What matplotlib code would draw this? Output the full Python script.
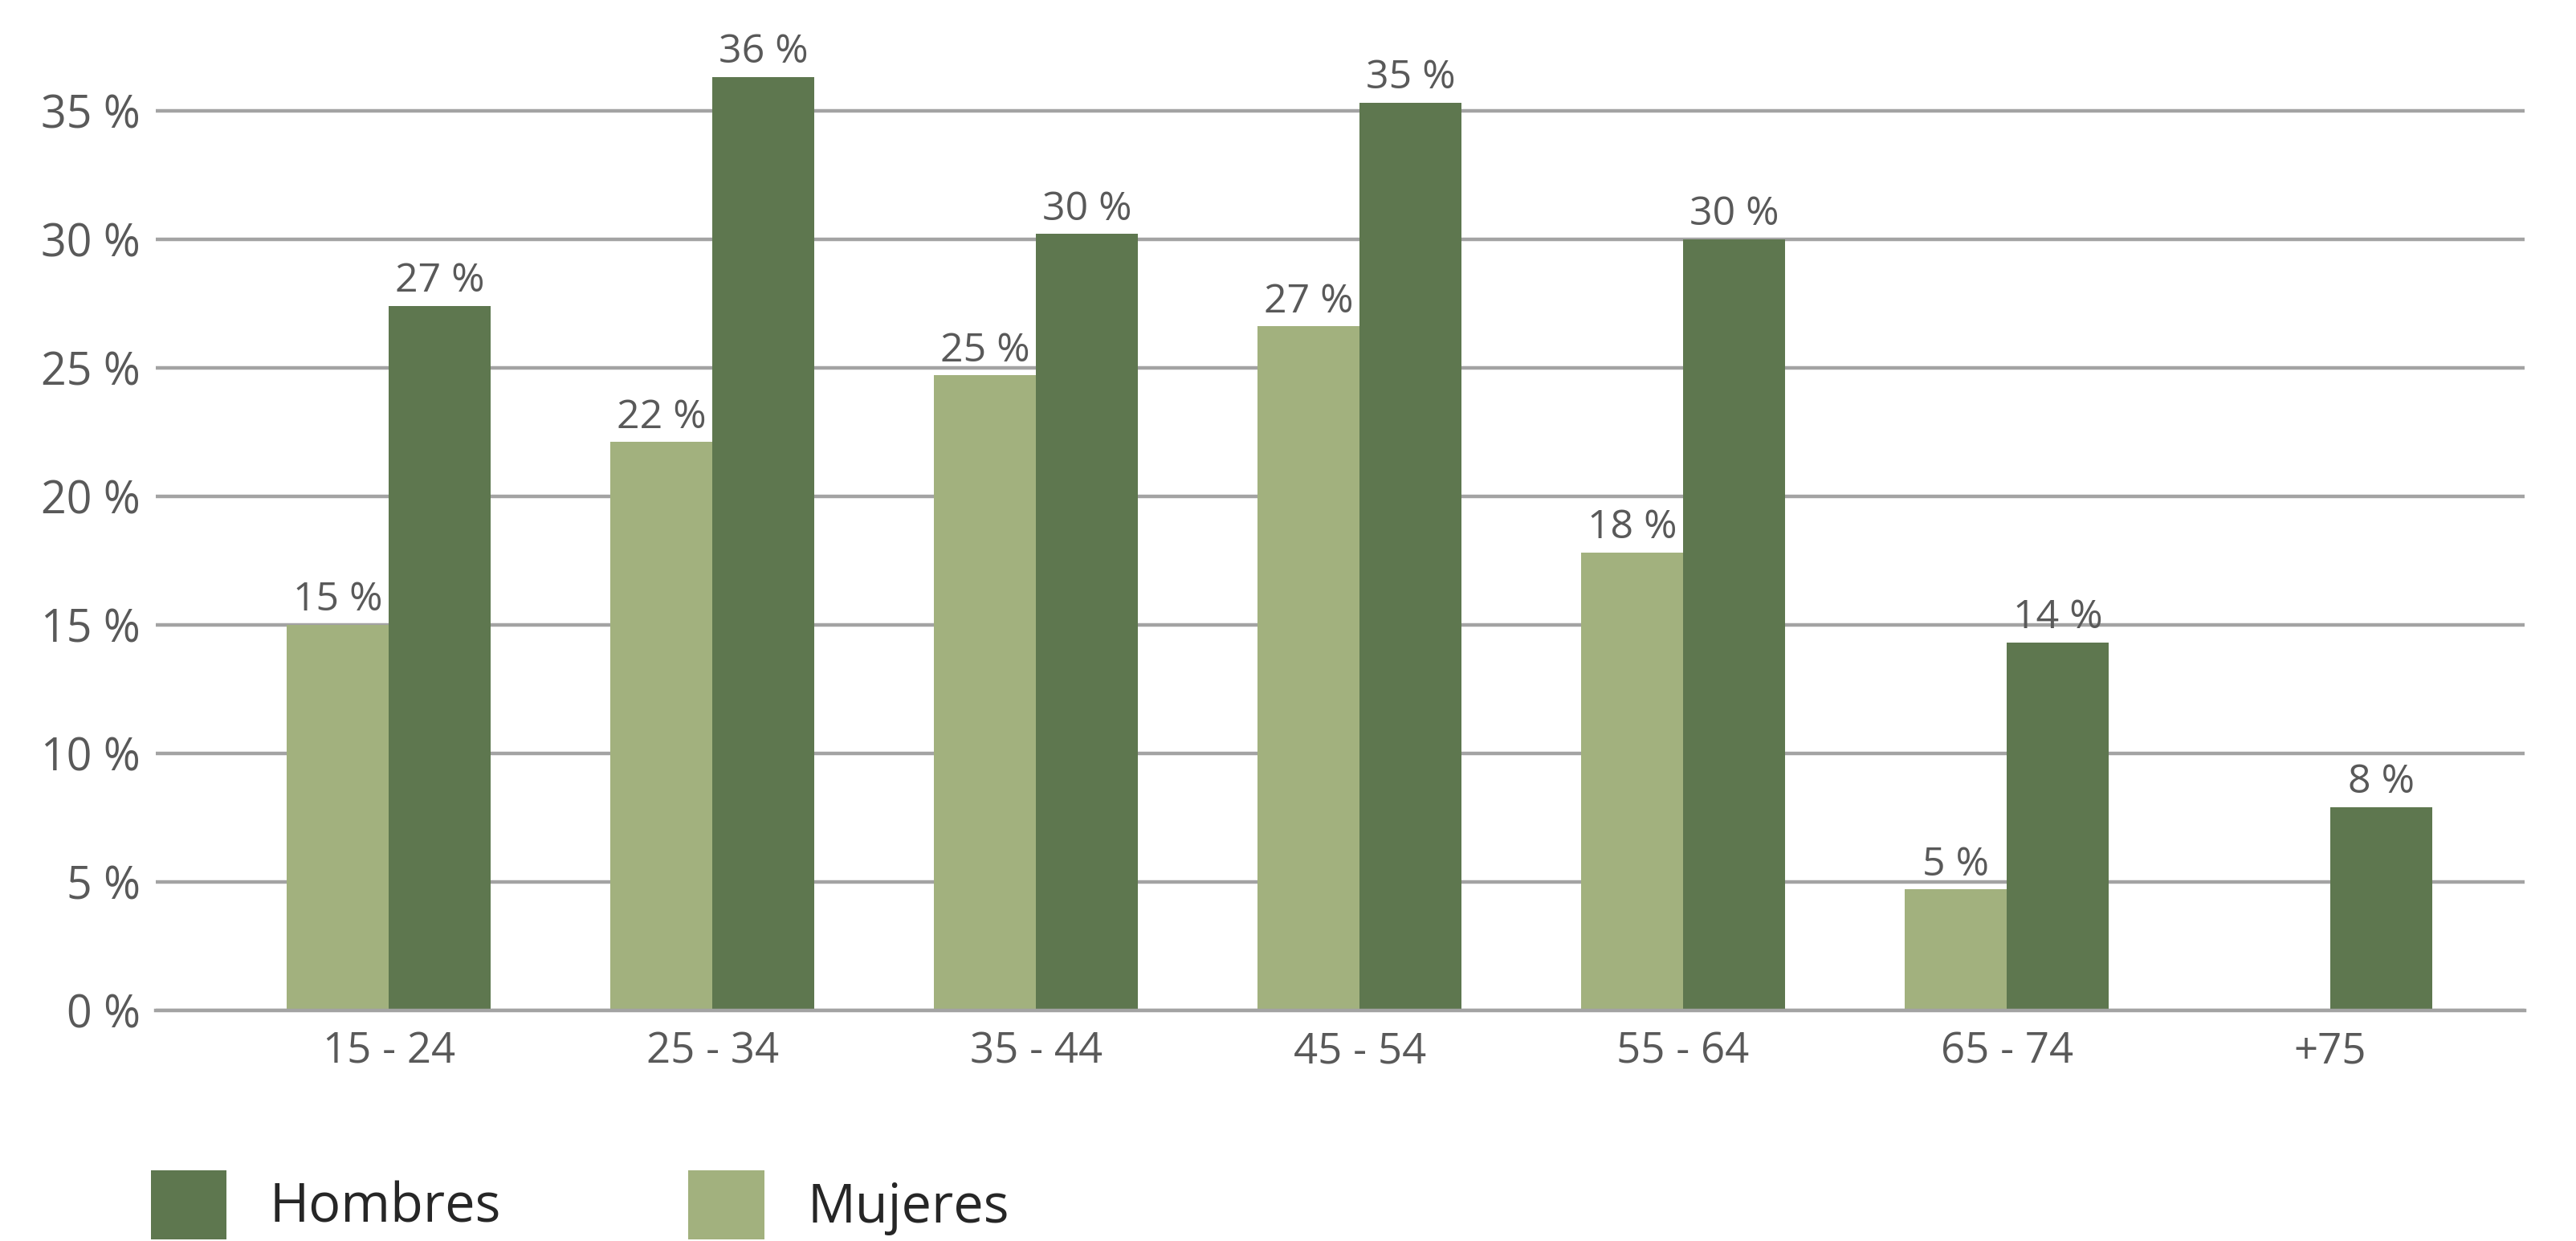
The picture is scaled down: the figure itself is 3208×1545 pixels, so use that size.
import matplotlib
matplotlib.use('Agg')
import matplotlib.pyplot as plt
from matplotlib.ticker import FuncFormatter
import numpy as np

plt.rcParams['font.family'] = ['Open Sans', 'DejaVu Sans']

# age groups and shares (%)
grupos = ['15 - 24', '25 - 34', '35 - 44', '45 - 54', '55 - 64', '65 - 74', '+75']
hombres = [27.4, 36.3, 30.2, 35.3, 30.0, 14.3, 7.9]
mujeres = [15.0, 22.1, 24.7, 26.6, 17.8, 4.7, None]

c_hom = '#5E774F'
c_muj = '#A2B17E'
c_txt = '#595959'
c_grid = '#A3A3A3'

fig = plt.figure(figsize=(16.04, 7.725), dpi=200)
ax = fig.add_axes([0.0605, 0.186, 0.9195, 0.814])

x = np.arange(len(grupos))
w = 0.315

muj_vals = [v if v is not None else 0 for v in mujeres]
b_muj = ax.bar(x - w/2, muj_vals, w, color=c_muj, label='Mujeres', zorder=3)
b_hom = ax.bar(x + w/2, hombres, w, color=c_hom, label='Hombres', zorder=3)

def autolabel(rects, vals):
    for r in range(len(rects)):
        if vals[r] is None:
            continue
        rect = rects[r]
        ax.annotate('%d %%' % round(vals[r]),
                    (rect.get_x() + rect.get_width()/2., rect.get_height()),
                    xytext=(0, 2), textcoords='offset points',
                    ha='center', va='bottom', fontsize=18, color=c_txt)

autolabel(b_muj, mujeres)
autolabel(b_hom, hombres)

ax.set_xlim(-0.72, 6.60)
ax.set_ylim(0, 39.3)
ax.set_yticks(range(0, 36, 5))
ax.yaxis.set_major_formatter(FuncFormatter(lambda v, p: '%d %%' % v))
ax.set_xticks(x)
ax.set_xticklabels(grupos)
ax.tick_params(axis='both', length=0, labelsize=19, colors=c_txt)
ax.tick_params(axis='y', pad=7, labelsize=20)
ax.tick_params(axis='x', pad=9)

ax.grid(axis='y', color=c_grid, linewidth=1.6, zorder=0)
for s in ['top', 'right', 'left']:
    ax.spines[s].set_visible(False)
ax.spines['bottom'].set_color(c_grid)
ax.spines['bottom'].set_linewidth(1.6)
ax.spines['bottom'].set_zorder(4)

leg = fig.legend([b_hom, b_muj], ['Hombres', 'Mujeres'], loc='upper left',
                 bbox_to_anchor=(0.0585, 0.057), ncol=2, frameon=False,
                 fontsize=24, handlelength=1.42, handleheight=1.6,
                 handletextpad=0.8, columnspacing=3.5, borderaxespad=0,
                 borderpad=0)
for t in leg.get_texts():
    t.set_color('#262626')

plt.savefig('out.png', dpi=200)
plt.close()
